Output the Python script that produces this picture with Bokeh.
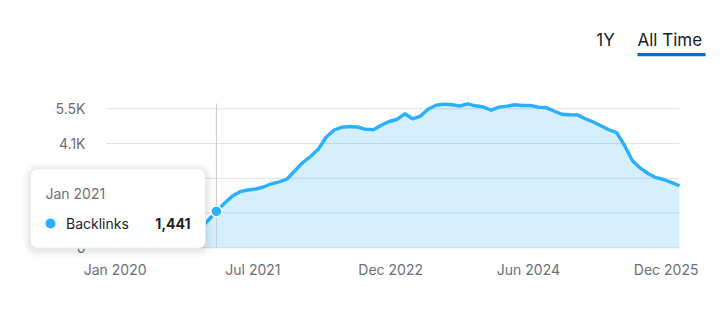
import numpy as np
from bokeh.plotting import figure
from bokeh.models import (FixedTicker, BoxAnnotation, Label, Range1d)
from bokeh.embed import file_html
from bokeh.resources import INLINE

# ---- data (monthly, Nov 2019 .. Dec 2025; month index 0 = Jan 2021) ----
first_month_index = -14
backlinks = [150, 170, 190, 220, 250, 290, 330, 380, 430, 500, 580, 670, 790, 1100,
             1441, 1753, 2042, 2220, 2287, 2327, 2406, 2533, 2612, 2723, 3047, 3376,
             3613, 3910, 4385, 4662, 4772, 4800, 4780, 4689, 4674, 4852, 4998, 5077,
             5303, 5105, 5212, 5493, 5639, 5683, 5659, 5611, 5698, 5619, 5572, 5445,
             5564, 5604, 5659, 5631, 5631, 5568, 5544, 5414, 5283, 5263, 5259, 5105,
             4978, 4832, 4670, 4555, 4048, 3443, 3154, 2940, 2774, 2703, 2576, 2454]
x_tick_labels = ["Jan 2020", "Jul 2021", "Dec 2022", "Jun 2024", "Dec 2025"]
y_tick_values = [0, 1375, 2750, 4125, 5500]
y_tick_labels = ["0", "1.4K", "2.8K", "4.1K", "5.5K"]
tooltip_month = "Jan 2021"
tooltip_series = "Backlinks"
tooltip_value = 1441
tabs = ["1Y", "All Time"]

months = list(range(first_month_index, first_month_index + len(backlinks)))

W, H = 720, 330
# plot area (pixels) that the data occupies inside the full-canvas frame
PL, PR = 106.0, 679.0
PY0, PY_TOP = 247.3, 108.3   # pixel rows of value 0 and of 5500
kx = (PR - PL) / (months[-1] - months[0])
ky = (PY0 - PY_TOP) / y_tick_values[-1]
x0 = months[0] - PL / kx
x1 = months[-1] + (W - PR) / kx
y0 = -(H - PY0) / ky
y1 = PY0 / ky

def sx(px):
    return x0 + px / kx
def sy(py):
    return y1 - py / ky

p = figure(width=W, height=H, output_backend="svg", toolbar_location=None,
           x_range=Range1d(x0, x1), y_range=Range1d(y0, y1),
           min_border_left=0, min_border_right=0, min_border_top=0,
           min_border_bottom=0, outline_line_color=None,
           background_fill_color="white", border_fill_color="white")

FONT = "Inter"
GRAY = "#6c6e79"
DARK = "#1d1e25"
BLUE = "#2bb0ff"

# axes drawn at fixed locations inside the frame
xt = [round(v, 2) for v in np.linspace(-12.9, 57.3, len(x_tick_labels))]
p.xaxis.ticker = FixedTicker(ticks=xt)
p.xaxis.major_label_overrides = {t: l for t, l in zip(xt, x_tick_labels)}
p.xaxis.fixed_location = 0
p.yaxis.ticker = FixedTicker(ticks=y_tick_values)
p.yaxis.major_label_overrides = {t: l for t, l in zip(y_tick_values, y_tick_labels)}
p.yaxis.fixed_location = months[0]
for ax in (p.xaxis[0], p.yaxis[0]):
    ax.axis_line_color = None
    ax.major_tick_line_color = None
    ax.minor_tick_line_color = None
    ax.major_tick_out = 0
    ax.major_tick_in = 0
    ax.major_label_text_font = FONT
    ax.major_label_text_font_size = "14px"
    ax.major_label_text_color = GRAY
p.xaxis.major_label_standoff = 13
p.yaxis.major_label_standoff = 21
p.xgrid.grid_line_color = None
p.ygrid.grid_line_color = None

# horizontal grid lines over the data span
p.segment(x0=[months[0]] * len(y_tick_values), x1=[months[-1]] * len(y_tick_values),
          y0=y_tick_values, y1=y_tick_values, line_color="#dfe0e8", line_width=1)

# series
p.varea(x=months, y1=0, y2=backlinks, fill_color=BLUE, fill_alpha=0.2)
p.line(x=months, y=backlinks, line_color=BLUE, line_width=3.4, line_join="round")

# crosshair + marker
p.segment(x0=[0], x1=[0], y0=[0], y1=[sy(103)], line_color="#c9cad3", line_width=1)
p.scatter(x=[0], y=[tooltip_value], size=11, fill_color=BLUE, line_color="white",
          line_width=1.5)

# tooltip box (soft shadow + box)
for d, a in ((8, 0.012), (6, 0.016), (4, 0.022), (2, 0.03)):
    p.add_layout(BoxAnnotation(left=sx(30 - d), right=sx(205 + d), top=sy(168 - d + 2),
                               bottom=sy(247.7 + d + 2), fill_color="black", fill_alpha=a,
                               line_color=None, border_radius=int(7 + d), level="overlay"))
p.add_layout(BoxAnnotation(left=sx(30), right=sx(205), top=sy(168.3), bottom=sy(247.7),
                           fill_color="white", fill_alpha=1, line_color="#e8e9ee",
                           line_width=1, line_alpha=1, border_radius=7, level="overlay"))
p.add_layout(Label(x=sx(45), y=sy(192.5), text=tooltip_month, text_font=FONT,
                   text_font_size="14px", text_color=GRAY, text_baseline="middle",
                   text_align="left", level="overlay"))
p.add_layout(BoxAnnotation(left=sx(45), right=sx(55), top=sy(218), bottom=sy(228),
                           fill_color=BLUE, fill_alpha=1, line_color=None,
                           border_radius=5, level="overlay"))
p.add_layout(Label(x=sx(65.5), y=sy(223), text=tooltip_series, text_font=FONT,
                   text_font_size="14px", text_color=DARK, text_baseline="middle",
                   text_align="left", level="overlay"))
p.add_layout(Label(x=sx(190), y=sy(223), text=f"{tooltip_value:,}", text_font=FONT,
                   text_font_size="14px", text_font_style="bold", text_color=DARK,
                   text_baseline="middle", text_align="right", level="overlay"))

# period tabs
p.add_layout(Label(x=sx(605), y=sy(39.5), text=tabs[0], text_font=FONT,
                   text_font_size="17px", text_color="#191b23", text_baseline="middle",
                   text_align="center"))
p.add_layout(Label(x=sx(637), y=sy(39.5), text=tabs[1], text_font=FONT,
                   text_font_size="17px", text_color="#191b23", text_baseline="middle",
                   text_align="left"))
p.add_layout(BoxAnnotation(left=sx(637), right=sx(705), top=sy(52.5), bottom=sy(55.8),
                           fill_color="#006dca", fill_alpha=1, line_color=None))

open("out.html", "w").write(file_html(p, INLINE))
